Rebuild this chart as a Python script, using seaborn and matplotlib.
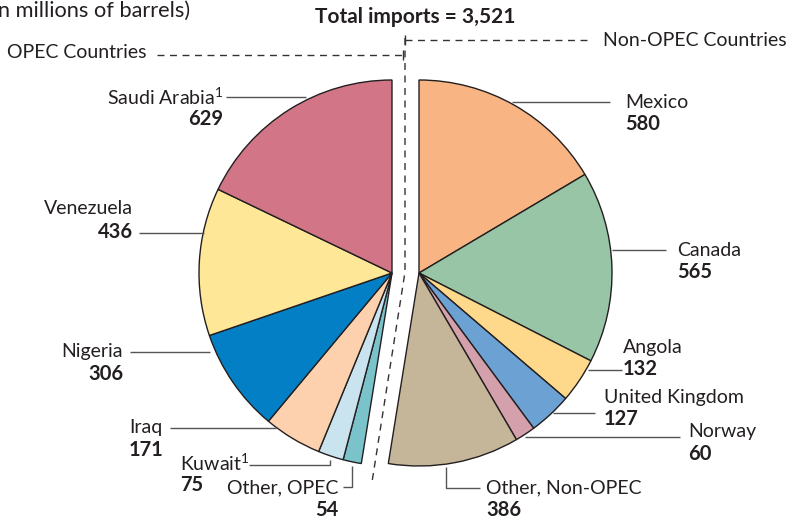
import matplotlib
matplotlib.use("Agg")
import matplotlib.pyplot as plt
import seaborn as sns

sns.set_style("white")
plt.rcParams['font.family'] = ['Lato', 'DejaVu Sans']
plt.rcParams['mathtext.fontset'] = 'custom'
plt.rcParams['mathtext.rm'] = 'Lato'

# ---- data ----
nonopec_names = ["Mexico", "Canada", "Angola", "United Kingdom", "Norway", "Other, Non-OPEC"]
nonopec_vals = [580, 565, 132, 127, 60, 386]
nonopec_colors = ["#F9B484", "#97C5A5", "#FED98B", "#6BA1D3", "#D4A0AB", "#C5B599"]

opec_names = ["Other, OPEC", "Kuwait", "Iraq", "Nigeria", "Venezuela", "Saudi Arabia"]
opec_vals = [54, 75, 171, 306, 436, 629]
opec_colors = ["#7BC3CA", "#C9E3EF", "#FDD0AE", "#0380C5", "#FEE897", "#D27687"]

total_label = "Total imports = 3,521"
units_label = "(In millions of barrels)"

W, H = 788, 519
fig = plt.figure(figsize=(W / 100, H / 100), dpi=100)
ax = fig.add_axes([0, 0, 1, 1])

def Y(py):
    return H - py

R = 193
edge = dict(edgecolor="#231F20", linewidth=1.0)

# right half (non-OPEC)
w1, _ = ax.pie(nonopec_vals + [sum(opec_vals)], colors=nonopec_colors + ["white"],
               startangle=90, counterclock=False, center=(419, Y(273)), radius=R,
               wedgeprops=edge)
w1[-1].set_visible(False)
# left half (OPEC)
w2, _ = ax.pie([sum(nonopec_vals)] + opec_vals, colors=["white"] + opec_colors,
               startangle=90, counterclock=False, center=(392, Y(273)), radius=R,
               wedgeprops=edge)
w2[0].set_visible(False)

ax.set_xlim(0, W)
ax.set_ylim(0, H)
ax.set_aspect("equal")
ax.axis("off")

FS = 14
NFS = 14.5
tc = "#231F20"
lc = "#555555"

def lab(x, y, name, val, ha="left", vy=22):
    ax.text(x, Y(y), name, ha=ha, va="center", fontsize=FS, color=tc)
    ax.text(x, Y(y + vy), val, ha=ha, va="center", fontsize=NFS, color=tc, fontweight="bold")

def line(xs, ys, **kw):
    ax.plot(xs, [Y(v) for v in ys], color=kw.get("color", lc), lw=kw.get("lw", 1.0),
            ls=kw.get("ls", "-"), solid_capstyle="butt")

# header texts
ax.text(190, Y(11), units_label, ha="right", va="center", fontsize=15.7, color=tc)
ax.text(415, Y(17), total_label, ha="center", va="center", fontsize=15, color=tc, fontweight="bold")
ax.text(147, Y(53), "OPEC Countries", ha="right", va="center", fontsize=FS, color=tc)
ax.text(603, Y(40), "Non-OPEC Countries", ha="left", va="center", fontsize=FS, color=tc)

dash = dict(color="#333333", lw=1.0, ls=(0, (5, 4)))
line([157, 403], [55, 55], **dash)
line([405, 590], [40, 40], **dash)
line([405, 405, 372], [38, 272, 482], **dash)
line([403, 403], [50, 60], color="#333333")
line([405, 405], [35, 45], color="#333333")

# OPEC labels
lab(223, 97, r"Saudi Arabia$^{\mathrm{1}}$", str(opec_vals[5]), ha="right")
line([226, 306], [97, 97])

lab(133, 208, "Venezuela", str(opec_vals[4]), ha="right", vy=24)
line([139, 204], [233, 233])

lab(123, 352, "Nigeria", str(opec_vals[3]), ha="right")
line([130, 210], [352, 352])

lab(163, 428, "Iraq", str(opec_vals[2]), ha="right")
line([170, 276], [428, 428])

lab(180, 463, r"Kuwait$^{\mathrm{1}}$", str(opec_vals[1]), ha="left")
line([249, 330, 330], [465, 465, 460])

lab(338, 488, "Other, OPEC", str(opec_vals[0]), ha="right")
line([343, 352, 352], [487, 487, 466])

# non-OPEC labels
lab(625, 102, "Mexico", str(nonopec_vals[0]))
line([512, 610], [102, 102])

lab(677, 250, "Canada", str(nonopec_vals[1]))
line([612, 666], [250, 250])

lab(623, 347, "Angola", str(nonopec_vals[2]))
line([588, 622], [370, 370])

lab(604, 397, "United Kingdom", str(nonopec_vals[3]))
line([553, 595], [413, 413])

lab(688, 432, "Norway", str(nonopec_vals[4]))
line([525, 680], [437, 437])

lab(486, 488, "Other, Non-OPEC", str(nonopec_vals[5]))
line([446, 446, 480], [467, 488, 488])

fig.savefig("out.png", dpi=100)
